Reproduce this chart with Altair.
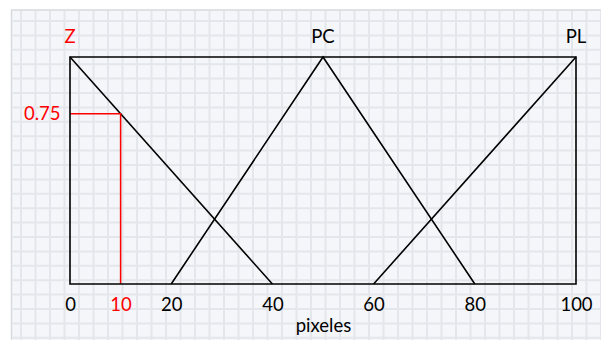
import altair as alt
import pandas as pd

# Membership functions (x in pixels, y membership degree)
z_x = [0, 40]
z_y = [1, 0]
pc_x = [20, 50, 80]
pc_y = [0, 1, 0]
pl_x = [60, 100]
pl_y = [0, 1]

set_names = ["Z", "PC", "PL"]
set_label_x = [0, 50, 100]
set_label_color = ["#ff0000", "#000000", "#000000"]

marker_x = 10
marker_y = 0.75

x_ticks = [0, 10, 20, 40, 60, 80, 100]
FONT = "Lato"
FS = 18.5

rows = []
for name, xs, ys in [("Z", z_x, z_y), ("PC", pc_x, pc_y), ("PL", pl_x, pl_y)]:
    for i, (a, b) in enumerate(zip(xs, ys)):
        rows.append({"set": name, "order": i, "x": a, "y": b})
lines_df = pd.DataFrame(rows)

box_df = pd.DataFrame({"x": [0], "x2": [100], "y": [0], "y2": [1]})
marker_df = pd.DataFrame({"x": [0, marker_x, marker_x], "y": [marker_y, marker_y, 0], "order": [0, 1, 2]})
labels_df = pd.DataFrame({"name": set_names, "x": set_label_x, "y": [1] * 3, "color": set_label_color})

xscale = alt.Scale(domain=[0, 100], nice=False)
yscale = alt.Scale(domain=[0, 1], nice=False)

# Spreadsheet-like background
bg = alt.Chart(pd.DataFrame({"a": [0]})).mark_rect(fill="#f4f6f9", stroke="#d6d9dd", strokeWidth=1.5).encode(
    x=alt.value(-58.5), x2=alt.value(545), y=alt.value(-47), y2=alt.value(300)
)
vgrid = alt.Chart(alt.sequence(0, 42, as_="k")).transform_calculate(
    px="-49 + 14.5*datum.k"
).mark_rule(color="#e3e6ea", strokeWidth=2).encode(
    x=alt.X("px:Q", scale=None), y=alt.value(-46), y2=alt.value(300)
)
hgrid = alt.Chart(alt.sequence(0, 23, as_="k")).transform_calculate(
    py="-36 + 14.4*datum.k"
).mark_rule(color="#e3e6ea", strokeWidth=2).encode(
    y=alt.Y("py:Q", scale=None), x=alt.value(-57.5), x2=alt.value(545)
)

box = alt.Chart(box_df).mark_rect(fill=None, stroke="black", strokeWidth=1.6).encode(
    x=alt.X("x:Q", scale=xscale,
            axis=alt.Axis(values=x_ticks, title="pixeles", grid=False, domain=False, ticks=False,
                          labelFont=FONT, labelFontSize=FS, labelPadding=11, zindex=1,
                          labelColor=alt.condition("datum.value == 10", alt.value("#ff0000"), alt.value("#000000")),
                          titleFont=FONT, titleFontSize=FS, titleFontWeight="normal", titlePadding=3,
                          titleColor="black", labelFlush=False)),
    x2="x2:Q",
    y=alt.Y("y:Q", scale=yscale,
            axis=alt.Axis(values=[marker_y], title=None, grid=False, domain=False, ticks=False,
                          labelFont=FONT, labelFontSize=FS, labelPadding=10, labelColor="#ff0000",
                          format=".2f", zindex=1)),
    y2="y2:Q",
)

lines = alt.Chart(lines_df).mark_line(color="black", strokeWidth=1.6).encode(
    x=alt.X("x:Q", scale=xscale), y=alt.Y("y:Q", scale=yscale), detail="set:N", order="order:Q"
)

marker = alt.Chart(marker_df).mark_line(color="#ff0000", strokeWidth=1.5).encode(
    x=alt.X("x:Q", scale=xscale), y=alt.Y("y:Q", scale=yscale), order="order:Q"
)

labels = alt.Chart(labels_df).mark_text(font=FONT, fontSize=FS, dy=-20, baseline="middle").encode(
    x=alt.X("x:Q", scale=xscale), y=alt.Y("y:Q", scale=yscale), text="name:N",
    color=alt.Color("color:N", scale=None)
)

chart = alt.layer(bg, vgrid, hgrid, lines, marker, box, labels).properties(
    width=506, height=227,
    autosize=alt.AutoSizeParams(type="none"),
    padding={"left": 62, "top": 49, "right": 25, "bottom": 56},
    background="white",
).configure_view(stroke=None)

chart.save("out.html", embed_options={"renderer": "svg", "actions": False})
